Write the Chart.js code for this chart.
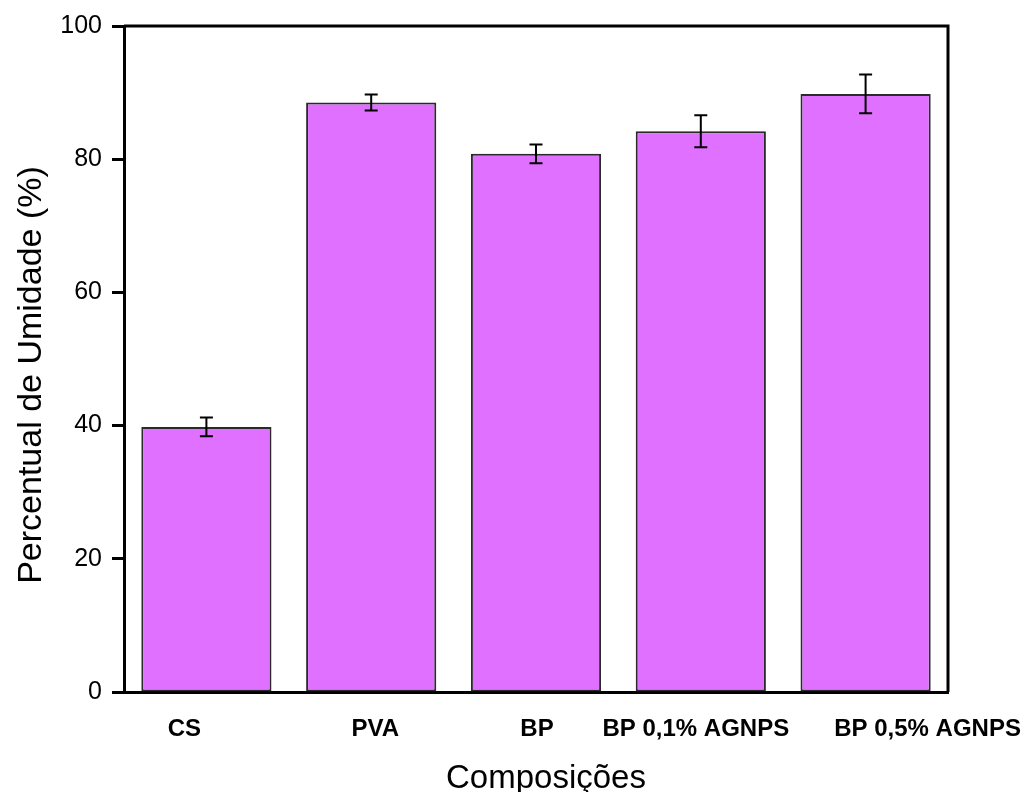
<!DOCTYPE html>
<html>
<head>
<meta charset="utf-8">
<script src="https://cdn.jsdelivr.net/npm/chart.js@4.4.1/dist/chart.umd.min.js"></script>
<style>
  html, body { margin: 0; padding: 0; background: #fff; }
  #wrap { width: 1027px; height: 792px; }
</style>
</head>
<body>
<div id="wrap"><canvas id="c" width="1027" height="792"></canvas></div>
<script>
const categories = ["CS", "PVA", "BP", "BP 0,1% AGNPS", "BP 0,5% AGNPS"];
const moisture = [39.8, 88.5, 80.8, 84.2, 89.8];
const moistureErr = [1.4, 1.2, 1.4, 2.4, 2.9];
const yTicks = [0, 20, 40, 60, 80, 100];
const xTitle = "Composições";
const yTitle = "Percentual de Umidade (%)";

const FONT = "'Liberation Sans', Arial, Helvetica, sans-serif";

const frameAndErrors = {
  id: 'frameAndErrors',
  afterDatasetsDraw(chart, args, opts) {
    const ctx = chart.ctx;
    const x = chart.scales.x, y = chart.scales.y;
    ctx.save();
    // error bars
    ctx.strokeStyle = '#000';
    ctx.lineWidth = 2;
    const cap = 6.5;
    moisture.forEach((v, i) => {
      const px = x.getPixelForValue(i);
      const yt = y.getPixelForValue(v + moistureErr[i]);
      const yb = y.getPixelForValue(v - moistureErr[i]);
      ctx.beginPath();
      ctx.moveTo(px, yt); ctx.lineTo(px, yb);
      ctx.moveTo(px - cap, yt); ctx.lineTo(px + cap, yt);
      ctx.moveTo(px - cap, yb); ctx.lineTo(px + cap, yb);
      ctx.stroke();
    });
    // frame
    const a = chart.chartArea;
    ctx.lineWidth = 3;
    ctx.strokeStyle = '#000';
    ctx.beginPath();
    ctx.moveTo(a.left, a.top); ctx.lineTo(a.right, a.top); ctx.lineTo(a.right, a.bottom);
    ctx.stroke();
    // category labels
    ctx.fillStyle = '#000';
    ctx.font = 'bold 24px ' + FONT;
    ctx.textAlign = 'center';
    ctx.textBaseline = 'alphabetic';
    const offs = opts.labelOffsets;
    categories.forEach((c, i) => {
      ctx.fillText(c, x.getPixelForValue(i) + offs[i], opts.labelBaseline);
    });
    // axis titles
    ctx.font = '33px ' + FONT;
    ctx.fillText(xTitle, (a.left + a.right) / 2 + opts.xTitleShift, opts.xTitleBaseline);
    ctx.save();
    ctx.translate(opts.yTitleBaselineX, (a.top + a.bottom) / 2 + opts.yTitleShift);
    ctx.rotate(-Math.PI / 2);
    ctx.font = '34px ' + FONT;
    ctx.fillText(yTitle, 0, 0);
    ctx.restore();
    ctx.restore();
  }
};

new Chart(document.getElementById('c'), {
  type: 'bar',
  data: {
    labels: categories,
    datasets: [{
      data: moisture,
      backgroundColor: 'rgb(224,112,255)',
      borderColor: '#2a2a2a',
      borderWidth: 2,
      borderSkipped: false,
      categoryPercentage: 1.0,
      barPercentage: 0.79
    }]
  },
  options: {
    responsive: false,
    animation: false,
    devicePixelRatio: 1,
    layout: { padding: { top: 26, right: 79, left: 0, bottom: 0 } },
    plugins: {
      legend: { display: false },
      tooltip: { enabled: false },
      frameAndErrors: {
        labelOffsets: [-22, 4, 1, -5, 62], labelBaseline: 736,
        xTitleShift: 10, xTitleBaseline: 788,
        yTitleBaselineX: 41, yTitleShift: 16
      }
    },
    scales: {
      x: {
        grid: { display: false },
        border: { display: true, color: '#000', width: 3 },
        ticks: { display: false },
        title: { display: false },
        afterFit(s) { s.height = 100; }
      },
      y: {
        min: 0, max: 100,
        afterBuildTicks(s) { s.ticks = yTicks.map(v => ({ value: v })); },
        grid: { drawOnChartArea: false, drawTicks: true, tickLength: 12, tickWidth: 3, tickColor: '#000' },
        border: { display: true, color: '#000', width: 3 },
        ticks: { color: '#000', padding: 10, font: { family: FONT, size: 25 } },
        title: { display: false },
        afterFit(s) { s.width = 124; }
      }
    }
  },
  plugins: [frameAndErrors]
});
</script>
</body>
</html>
